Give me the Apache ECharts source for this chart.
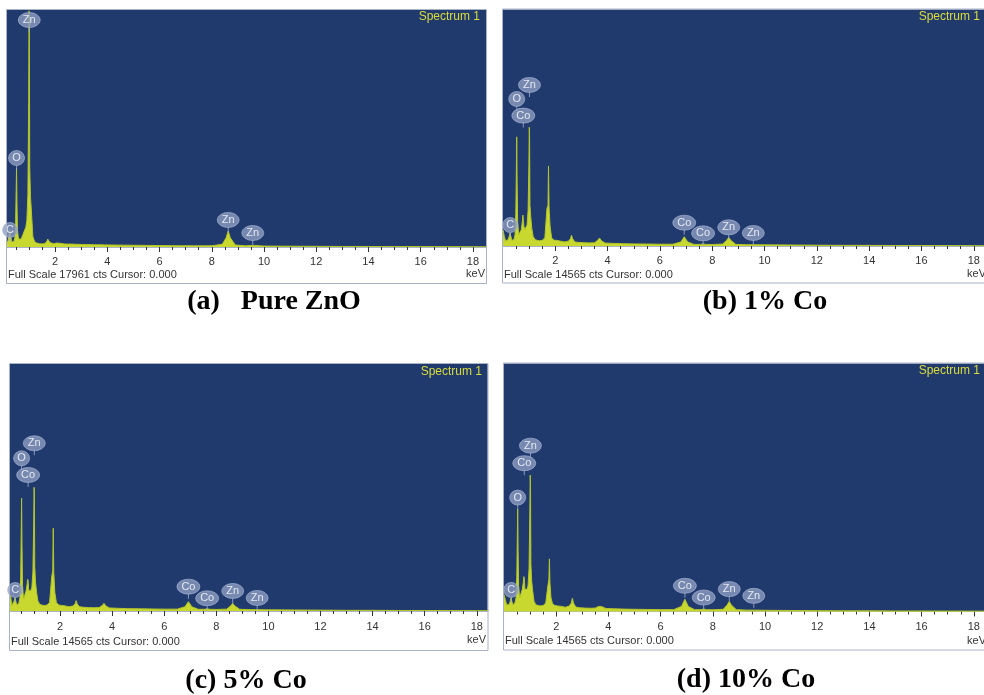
<!DOCTYPE html>
<html>
<head>
<meta charset="utf-8">
<script src="https://cdn.jsdelivr.net/npm/echarts@6/dist/echarts.min.js"></script>
<style>
html,body{margin:0;padding:0;background:#fff;}
#main{width:984px;height:695px;}
</style>
</head>
<body>
<div id="main"></div>
<script>
// ---------------- DATA ----------------
const energy = [
0.00,0.05,0.10,0.15,0.20,0.24,0.27,0.30,0.34,0.38,
0.42,0.46,0.49,0.51,0.525,0.54,0.56,0.60,0.65,0.70,
0.74,0.76,0.78,0.80,0.84,0.88,0.92,0.96,0.99,1.005,
1.015,1.03,1.06,1.10,1.15,1.22,1.30,1.40,1.50,1.60,
1.68,1.72,1.74,1.76,1.80,1.86,1.95,2.05,2.12,2.20,
2.35,2.50,2.58,2.62,2.66,2.75,2.90,3.10,3.30,3.50,
3.62,3.69,3.76,3.90,4.20,4.60,5.00,5.50,6.00,6.50,
6.80,6.93,7.06,7.30,7.55,7.65,7.75,8.00,8.40,8.55,
8.63,8.71,8.90,9.30,9.50,9.57,9.64,10.0,11.0,12.0,
13.0,14.0,15.0,16.0,17.0,18.0,18.5];

const countsA = [
300,200,150,200,500,900,1290,800,400,350,
400,700,1800,4200,5990,3500,1300,600,500,600,
800,900,1000,1100,1300,1500,2000,4000,11000,17900,
17000,6000,3800,2500,800,400,300,250,230,260,
400,600,680,600,350,250,240,300,380,280,
230,220,220,230,220,210,200,190,180,170,
170,175,165,160,150,140,130,120,110,100,
95,95,95,90,90,90,90,95,200,700,
1210,700,150,90,120,230,120,70,60,50,
40,40,30,30,25,20,20];

const countsB = [
1000,600,300,250,400,600,800,600,350,350,
400,700,2000,4500,6720,4000,1500,700,700,1000,
1500,1900,1800,1200,1000,1100,1300,2200,5000,7310,
6800,2500,1800,1100,600,400,350,320,350,500,
2300,2500,4930,2400,1200,500,350,350,370,300,
250,300,450,660,450,250,220,200,190,200,
350,490,330,180,160,140,130,120,110,110,
250,570,250,100,100,130,100,90,120,350,
530,350,100,80,80,110,80,70,60,50,
40,40,30,30,25,20,20];

const countsC = [
900,700,940,300,400,600,770,600,350,350,
450,800,2000,4500,6650,4000,1500,700,800,1200,
1600,1870,1700,1200,1100,1200,1400,2300,5200,7290,
6900,2600,1700,1100,600,400,350,320,350,500,
2000,2400,4880,2300,1100,500,350,330,350,300,
250,300,420,610,420,250,220,200,190,200,
320,450,300,180,160,140,130,120,110,110,
250,550,250,100,100,130,100,90,110,300,
450,300,100,80,80,110,80,70,60,50,
40,40,30,30,25,20,20];

const countsD = [
1000,700,400,300,400,600,800,600,400,400,
500,800,2000,4200,6020,3600,1500,800,900,1300,
1700,2050,1900,1300,1200,1300,1500,2500,5800,8010,
7500,2800,1800,1200,600,400,350,330,350,500,
1500,1900,3090,1700,800,450,350,330,350,300,
250,320,500,780,500,260,220,200,190,200,
300,390,280,180,160,140,130,120,110,110,
300,720,300,110,110,150,110,100,130,380,
590,380,110,80,80,110,80,70,60,50,
40,40,30,30,25,20,20];

const fullScale = [17961, 14565, 14565, 14565];

const peakNamesA = ['C','O','Zn','Zn','Zn'];
const peakEnergyA = [0.277,0.525,1.012,8.63,9.57];
const peakLabelHeightA = [1290,6745,17200,2050,1060];

const peakNamesB = ['C','O','Co','Zn','Co','Co','Zn','Zn'];
const peakEnergyB = [0.277,0.525,0.776,1.012,6.93,7.65,8.63,9.57];
const peakLabelHeightB = [1290,9055,8030,9920,1435,780,1150,800];

const peakNamesC = ['C','O','Co','Zn','Co','Co','Zn','Zn'];
const peakEnergyC = [0.277,0.525,0.776,1.012,6.93,7.65,8.63,9.57];
const peakLabelHeightC = [1240,9005,8020,9890,1435,750,1180,770];

const peakNamesD = ['C','O','Co','Zn','Co','Co','Zn','Zn'];
const peakEnergyD = [0.277,0.525,0.776,1.012,6.93,7.65,8.63,9.57];
const peakLabelHeightD = [1270,6690,8710,9740,1510,820,1315,920];

const tickLabels = [2,4,6,8,10,12,14,16,18];
const minorTicks = [0.5,1,1.5,2,2.5,3,3.5,4,4.5,5,5.5,6,6.5,7,7.5,8,8.5,9,9.5,10,
                    10.5,11,11.5,12,12.5,13,13.5,14,14.5,15,15.5,16,16.5,17,17.5,18];

const captions = ['(a)   Pure ZnO', '(b) 1% Co', '(c) 5% Co', '(d) 10% Co'];
const spectrumTitle = 'Spectrum 1';
const xUnit = 'keV';

// ---------------- LAYOUT ----------------
const grids = [
  {left:7,   top:10,    width:479,   height:237},
  {left:503, top:9.5,   width:481,   height:236.5},
  {left:10,  top:364,   width:477.7, height:247},
  {left:504, top:363.5, width:480,   height:248}
];
const xRanges = [[0.16,18.5],[0,18.39],[0.08,18.42],[0,18.39]];
const labelMargins = [9,9,10,10];
const frames = [
  {x:6.5, y:9.5, w:480, h:274},
  {x:502.5, y:9, w:490, h:274},
  {x:9.5, y:363.5, w:478.5, h:287},
  {x:503.5, y:363, w:490, h:287}
];
const specTitlePos = [[480,17],[980,17],[482,372],[980,371]];
const fullScalePos = [[8,275],[504,275],[11,642],[505,641]];
const kevPos = [[485,274],[986,274],[486,640],[986,641]];
const captionPos = [[274,302],[765,302],[246,681],[746,680]];

const countsAll = [countsA,countsB,countsC,countsD];
const peakNames = [peakNamesA,peakNamesB,peakNamesC,peakNamesD];
const peakEnergy = [peakEnergyA,peakEnergyB,peakEnergyC,peakEnergyD];
const peakHeight = [peakLabelHeightA,peakLabelHeightB,peakLabelHeightC,peakLabelHeightD];

const bubbleSize = {'C':[15,15],'O':[16,15],'Zn':[22,15],'Co':[23,15]};
const ellipse = 'path://M0,50A50,50,0,1,1,100,50A50,50,0,1,1,0,50Z';
const sansFont = '"Liberation Sans", Arial, sans-serif';

const option = {
  animation:false,
  backgroundColor:'#ffffff',
  grid:[], xAxis:[], yAxis:[], series:[], graphic:[]
};

for (let i=0;i<4;i++){
  const g = grids[i];
  option.grid.push({left:g.left, top:g.top, width:g.width, height:g.height,
    show:true, backgroundColor:'#213a6e', borderWidth:0});
  // main x axis with 0.5 keV ticks and labels
  option.xAxis.push({
    gridIndex:i, type:'value', min:xRanges[i][0], max:xRanges[i][1],
    axisLine:{show:true, onZero:false, lineStyle:{color:'#aab4c6', width:1}},
    axisTick:{show:true, customValues:minorTicks, length:3, lineStyle:{color:'#333', width:1}},
    axisLabel:{show:true, customValues:tickLabels, margin:labelMargins[i], color:'#333',
      fontSize:11, fontFamily:sansFont},
    splitLine:{show:false}
  });
  // second axis for the longer even ticks
  option.xAxis.push({
    gridIndex:i, type:'value', min:xRanges[i][0], max:xRanges[i][1], position:'bottom',
    axisLine:{show:false, onZero:false},
    axisTick:{show:true, customValues:tickLabels, length:5, lineStyle:{color:'#333', width:1}},
    axisLabel:{show:false},
    splitLine:{show:false}
  });
  option.yAxis.push({gridIndex:i, type:'value', min:0, max:fullScale[i], show:false,
    splitLine:{show:false}});

  const data = energy.map((e,k)=>[e, countsAll[i][k]]);
  option.series.push({
    type:'line', xAxisIndex:2*i, yAxisIndex:i, data:data,
    showSymbol:false, symbol:'none', smooth:false,
    lineStyle:{color:'#b3c52b', width:1},
    areaStyle:{color:'#c8d82e', opacity:1},
    z:2, silent:true
  });

  const bubbles = peakNames[i].map((n,k)=>({
    name:n, value:[peakEnergy[i][k], peakHeight[i][k]],
    symbolSize:bubbleSize[n]
  }));
  option.series.push({
    type:'scatter', xAxisIndex:2*i, yAxisIndex:i,
    data:peakNames[i].map((n,k)=>[peakEnergy[i][k], peakHeight[i][k]]),
    symbol:'rect', symbolSize:[1,5], symbolOffset:[0,9.5],
    itemStyle:{color:'#a3b0cf'}, z:4, silent:true
  });
  option.series.push({
    type:'scatter', xAxisIndex:2*i, yAxisIndex:i, data:bubbles,
    symbol:ellipse, symbolKeepAspect:false,
    itemStyle:{color:'#8d9dc1', borderColor:'#a9b6d3', borderWidth:0.8},
    label:{show:true, position:'inside', formatter:'{b}', color:'#ffffff',
      fontSize:11, fontFamily:sansFont},
    z:5, silent:true
  });

  const f = frames[i];
  option.graphic.push({type:'rect', shape:{x:f.x, y:f.y, width:f.w, height:f.h},
    style:{fill:null, stroke:'#a8b3c7', lineWidth:1}, silent:true, z:10});
  option.graphic.push({type:'text', x:specTitlePos[i][0], y:specTitlePos[i][1],
    style:{text:spectrumTitle, fill:'#d9dc3a', font:'12px '+sansFont, align:'right', verticalAlign:'middle'}, z:10});
  option.graphic.push({type:'text', x:fullScalePos[i][0], y:fullScalePos[i][1],
    style:{text:'Full Scale '+fullScale[i]+' cts Cursor: 0.000', fill:'#333', font:'11px '+sansFont,
      align:'left', verticalAlign:'middle'}, z:10});
  option.graphic.push({type:'text', x:kevPos[i][0], y:kevPos[i][1],
    style:{text:xUnit, fill:'#333', font:'11px '+sansFont, align:'right', verticalAlign:'middle'}, z:10});
  option.graphic.push({type:'text', x:captionPos[i][0], y:captionPos[i][1],
    style:{text:captions[i], fill:'#000', font:'bold 28px "Liberation Serif", "Times New Roman", serif',
      align:'center', verticalAlign:'middle'}, z:10});
}

const chart = echarts.init(document.getElementById('main'), null, {renderer:'canvas'});
chart.setOption(option);
</script>
</body>
</html>
